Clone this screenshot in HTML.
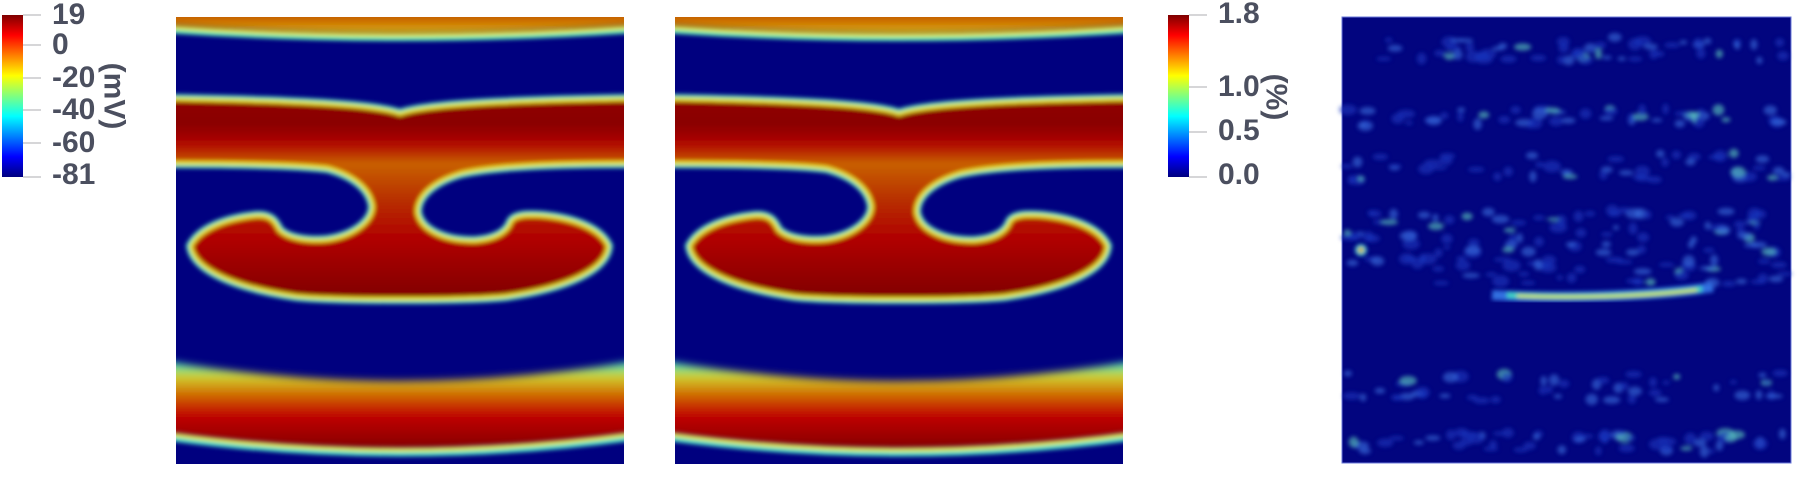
<!DOCTYPE html>
<html><head><meta charset="utf-8"><style>
html,body{margin:0;padding:0;background:#fff;}
body{width:1814px;height:489px;position:relative;overflow:hidden;font-family:"Liberation Sans",sans-serif;}
.lbl{position:absolute;font-size:30px;font-weight:bold;color:#4b4f5f;line-height:1;white-space:nowrap;}
.rot{position:absolute;font-size:30px;font-weight:bold;color:#4b4f5f;transform:rotate(90deg);transform-origin:center;line-height:1;white-space:nowrap;}
svg{position:absolute;}
</style></head><body>
<svg width="1814" height="489" style="left:0;top:0">
<defs>
<linearGradient id="jet" x1="0" y1="1" x2="0" y2="0">
<stop offset="0" stop-color="#00007f"/><stop offset="0.125" stop-color="#0000ff"/><stop offset="0.375" stop-color="#00ffff"/><stop offset="0.625" stop-color="#ffff00"/><stop offset="0.875" stop-color="#ff0000"/><stop offset="1" stop-color="#7f0000"/>
</linearGradient>
<linearGradient id="g1" x1="0" y1="0" x2="0" y2="1"><stop offset="0" stop-color="#b83c00"/><stop offset="0.6" stop-color="#d07a00"/><stop offset="1" stop-color="#d8c020"/></linearGradient>
<linearGradient id="g2" x1="0" y1="83" x2="0" y2="282" gradientUnits="userSpaceOnUse">
<stop offset="0" stop-color="#900000"/><stop offset="0.12" stop-color="#8a0000"/><stop offset="0.22" stop-color="#b00800"/><stop offset="0.32" stop-color="#c86000"/><stop offset="0.5" stop-color="#b83000"/><stop offset="0.7" stop-color="#b00000"/><stop offset="1" stop-color="#800000"/></linearGradient>
<linearGradient id="g3" x1="0" y1="346" x2="0" y2="434" gradientUnits="userSpaceOnUse">
<stop offset="0" stop-color="#40e0c0"/><stop offset="0.15" stop-color="#d0d030"/><stop offset="0.35" stop-color="#d07000"/><stop offset="0.6" stop-color="#c00000"/><stop offset="1" stop-color="#800000"/></linearGradient>
<filter id="bl" x="-10%" y="-10%" width="120%" height="120%"><feGaussianBlur stdDeviation="4"/></filter>
<filter id="bl2" x="-10%" y="-10%" width="120%" height="120%"><feGaussianBlur stdDeviation="2.2"/></filter>
<filter id="bl3" x="-10%" y="-10%" width="120%" height="120%"><feGaussianBlur stdDeviation="2.2"/></filter>
<clipPath id="pc"><rect x="0" y="0" width="448" height="447"/></clipPath>
<g id="field" clip-path="url(#pc)">
<rect x="0" y="0" width="448" height="447" fill="#00007f"/>
<g filter="url(#bl)">
<path d="M-10,-10 H458 V10 Q224,26 -10,10 Z" fill="url(#g1)"/>
<path id="r2" d="M-10,82 C120,84 200,88 224,97 C248,88 328,84 458,82 L458,146 C380,146 320,148 285,156 C258,164 241,178 241,195 C244,214 270,225 300,224 C322,222 332,214 335,205 C339,198 352,198 367,199 C398,202 424,212 432,229 C430,252 392,270 330,279 C290,283 160,283 120,279 C58,270 18,252 15,229 C24,212 50,202 80,199 C95,198 99,205 103,213 C112,222 132,225 152,223 C178,219 196,205 197,190 C195,172 178,158 152,151 C120,147 60,146 -10,146 Z" fill="url(#g2)"/>
<path d="M-10,344 Q224,384 458,344 L458,418 Q224,450 -10,418 Z" fill="url(#g3)"/>
</g>
<g fill="none" filter="url(#bl2)">
<path d="M-10,12 Q224,28 458,12" stroke="#50e8c0" stroke-width="8"/>
<path d="M-10,10 Q224,26 458,10" stroke="#e8e030" stroke-width="4"/>
<use href="#r2" stroke="#40e0d0" stroke-width="10"/>
<use href="#r2" stroke="#e8e028" stroke-width="4"/>
<path d="M-10,419 Q224,451 458,419" stroke="#40e0d0" stroke-width="9"/>
<path d="M-10,417 Q224,449 458,417" stroke="#e8e028" stroke-width="4"/>
</g>
</g>
</defs>

<g>
<rect x="2" y="15" width="21" height="162" fill="url(#jet)"/>
<g stroke="#c8c8cc" stroke-width="1.5">
<line x1="23" x2="41" y1="15" y2="15"/><line x1="23" x2="41" y1="45" y2="45"/><line x1="23" x2="41" y1="78" y2="78"/><line x1="23" x2="41" y1="110" y2="110"/><line x1="23" x2="41" y1="143" y2="143"/><line x1="23" x2="41" y1="177" y2="177"/>
</g></g>
<g>
<rect x="1168" y="15" width="21" height="162" fill="url(#jet)"/>
<g stroke="#c8c8cc" stroke-width="1.5">
<line x1="1189" x2="1207" y1="15" y2="15"/><line x1="1189" x2="1207" y1="87" y2="87"/><line x1="1189" x2="1207" y1="132" y2="132"/><line x1="1189" x2="1207" y1="177" y2="177"/>
</g></g>

<g transform="translate(176,17)"><use href="#field"/></g>
<g transform="translate(675,17)"><use href="#field"/></g>

<g transform="translate(1342,17)">
<rect x="0" y="0" width="449" height="446" fill="#02057f" stroke="#6a78d8" stroke-width="1"/>
<g id="speck" filter="url(#bl3)"></g>
<g filter="url(#bl2)">
<path d="M150,278 C200,281 300,281 371,270" stroke="#3070e0" stroke-width="10" fill="none"/>
<path d="M165,278 C220,281 300,280 360,272" stroke="#40d0c0" stroke-width="6" fill="none"/>
<path d="M175,279 C230,281 300,280 355,273" stroke="#d8e040" stroke-width="3" fill="none"/>
<circle cx="19" cy="233" r="6" fill="#40c0d0"/>
<circle cx="19" cy="233" r="3" fill="#e0e040"/>
<circle cx="19" cy="233" r="1.5" fill="#c00000"/>
</g>
</g>
</svg>

<div class="lbl" style="left:52px;top:0px">19</div>
<div class="lbl" style="left:52px;top:30px">0</div>
<div class="lbl" style="left:52px;top:63px">-20</div>
<div class="lbl" style="left:52px;top:95px">-40</div>
<div class="lbl" style="left:52px;top:128px">-60</div>
<div class="lbl" style="left:52px;top:160px">-81</div>
<div class="rot" style="left:80px;top:81px">(mV)</div>

<div class="lbl" style="left:1218px;top:-1px">1.8</div>
<div class="lbl" style="left:1218px;top:72px">1.0</div>
<div class="lbl" style="left:1218px;top:116px">0.5</div>
<div class="lbl" style="left:1218px;top:160px">0.0</div>
<div class="rot" style="left:1252px;top:82px">(%)</div>

<script>
// bands of speckle (local y centre, spread) in the error map
const bandY = [32, 100, 150, 215, 255, 370, 425];
const bandSpread = [12, 9, 14, 22, 14, 14, 10];
const bandCount = [55, 50, 50, 85, 50, 50, 55];
const g = document.getElementById('speck');
let s = 12345;
function rnd(){ s = (s*1103515245 + 12345) % 2147483648; return s/2147483648; }
for (let b = 0; b < bandY.length; b++) {
  for (let i = 0; i < bandCount[b]; i++) {
    const c = document.createElementNS('http://www.w3.org/2000/svg','ellipse');
    
    
    let x = 4 + rnd()*441;
    c.setAttribute('cx', x.toFixed(1));
    c.setAttribute('cy', (bandY[b] + (rnd()-0.5)*2*bandSpread[b]).toFixed(1));
    c.setAttribute('rx', (3 + rnd()*6).toFixed(1));
    c.setAttribute('ry', (2 + rnd()*4).toFixed(1));
    const r = rnd();
    c.setAttribute('fill', r < 0.1 ? '#60d0c0' : (r < 0.4 ? '#3a70e0' : '#1a38c0'));
    c.setAttribute('opacity', '0.6');
    g.appendChild(c);
  }
}
</script>
</body></html>
